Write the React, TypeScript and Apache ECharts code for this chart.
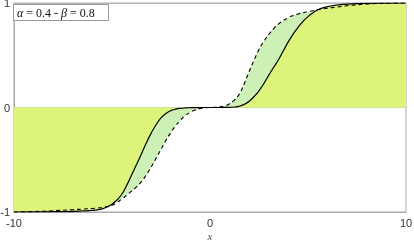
import React, { useEffect, useRef } from "react";
import * as echarts from "echarts";

const xs = [
  -10, -9, -8, -7, -6.5,
  -6, -5.75, -5.5, -5.25, -5, -4.75, -4.5, -4.25, -4, -3.75, -3.5, -3.25, -3, -2.75, -2.5, -2.25, -2, -1.75, -1.5, -1.25, -1, -0.75, -0.5, -0.25,
  0,
  0.25, 0.5, 0.75, 1, 1.25, 1.5, 1.75, 2, 2.25, 2.5, 2.75, 3, 3.25, 3.5, 3.75, 4, 4.25, 4.5, 4.75, 5, 5.25, 5.5, 5.75, 6,
  6.5, 7, 8, 9, 10,
];
const solidY = [
  -1.0, -0.999, -0.997, -0.994, -0.99,
  -0.985, -0.98, -0.97, -0.952, -0.925, -0.885, -0.83, -0.745, -0.645, -0.545, -0.445, -0.34, -0.245, -0.165, -0.1, -0.057, -0.03, -0.016, -0.008, -0.004, -0.002, -0.001, -0.0005, 0,
  0,
  0, 0.0005, 0.001, 0.002, 0.005, 0.012, 0.03, 0.06, 0.105, 0.16, 0.23, 0.31, 0.385, 0.46, 0.545, 0.63, 0.705, 0.77, 0.825, 0.87, 0.905, 0.935, 0.953, 0.966,
  0.981, 0.99, 0.997, 0.999, 1.0,
];
const dashedY = [
  -1.0, -0.996, -0.988, -0.978, -0.972,
  -0.966, -0.962, -0.957, -0.948, -0.935, -0.91, -0.875, -0.84, -0.8, -0.76, -0.71, -0.645, -0.57, -0.485, -0.4, -0.315, -0.24, -0.175, -0.12, -0.076, -0.045, -0.024, -0.01, -0.003,
  0,
  0.001, 0.005, 0.015, 0.035, 0.072, 0.13, 0.23, 0.345, 0.455, 0.555, 0.635, 0.7, 0.755, 0.8, 0.833, 0.86, 0.88, 0.895, 0.907, 0.917, 0.926, 0.935, 0.943, 0.95,
  0.962, 0.974, 0.99, 0.997, 1.0,
];
const xTicks = [-10, 0, 10];
const yTicks = [-1, 0, 1];
const xName = "x";
const legendText = "{i|α} = 0.4 - {i|β} = 0.8";

export default function App() {
  const ref = useRef<HTMLDivElement>(null);
  useEffect(() => {
    if (!ref.current) return;
    const chart = echarts.init(ref.current, null, { renderer: "svg" });
    const solid = xs.map((x, i) => [x, solidY[i]]);
    const dashed = xs.map((x, i) => [x, dashedY[i]]);
    chart.setOption({
      animation: false,
      grid: {
        left: 14,
        right: 8,
        top: 3,
        bottom: 30,
        containLabel: false,
        outerBoundsMode: "none",
        show: true,
        borderColor: "#aaaaaa",
        borderWidth: 1,
        backgroundColor: "transparent",
      },
      xAxis: {
        type: "value",
        min: xTicks[0],
        max: xTicks[xTicks.length - 1],
        interval: 10,
        axisLine: { show: true, onZero: false, lineStyle: { color: "#aaaaaa" } },
        axisTick: { show: false },
        splitLine: { show: false },
        axisLabel: { color: "#333", fontSize: 11, fontFamily: "Liberation Sans", margin: 5 },
      },
      yAxis: {
        type: "value",
        min: yTicks[0],
        max: yTicks[yTicks.length - 1],
        interval: 1,
        axisLine: { show: true, onZero: false, lineStyle: { color: "#aaaaaa" } },
        axisTick: { show: false },
        splitLine: { show: true, lineStyle: { color: "#b8b8b8", width: 1 } },
        axisLabel: { color: "#333", fontSize: 11, fontFamily: "Liberation Sans", margin: 4 },
      },
      series: [
        {
          type: "line",
          data: dashed,
          smooth: 0.5,
          symbol: "none",
          lineStyle: { width: 0, opacity: 0 },
          areaStyle: { color: "#cdf0b6", opacity: 1 },
          z: 1,
        },
        {
          type: "line",
          data: solid,
          smooth: 0.5,
          symbol: "none",
          lineStyle: { width: 1.2, color: "#000" },
          areaStyle: { color: "#dcf47a", opacity: 1 },
          z: 2,
        },
        {
          type: "line",
          data: dashed,
          smooth: 0.5,
          symbol: "none",
          lineStyle: { width: 1.1, color: "#000", type: [4, 3] },
          z: 3,
        },
      ],
      graphic: [
        {
          type: "rect",
          shape: { x: 13.5, y: 4.5, width: 95, height: 16 },
          style: { fill: "#fff", stroke: "#999", lineWidth: 1 },
          z: 10,
        },
        {
          type: "text",
          x: 17,
          y: 13,
          style: {
            text: legendText,
            fontFamily: "Liberation Serif",
            fontSize: 12,
            fill: "#111",
            verticalAlign: "middle",
            rich: { i: { fontStyle: "italic", fontFamily: "Liberation Serif", fontSize: 12 } },
          },
          z: 11,
        },
        {
          type: "text",
          x: 210,
          y: 235.5,
          style: {
            text: xName,
            fontFamily: "Liberation Serif",
            fontStyle: "italic",
            fontSize: 11,
            fill: "#555",
            align: "center",
            verticalAlign: "middle",
          },
          z: 11,
        },
      ],
    });
    return () => chart.dispose();
  }, []);
  return <div ref={ref} style={{ position: "fixed", left: 0, top: 0, width: 414, height: 242 }} />;
}
